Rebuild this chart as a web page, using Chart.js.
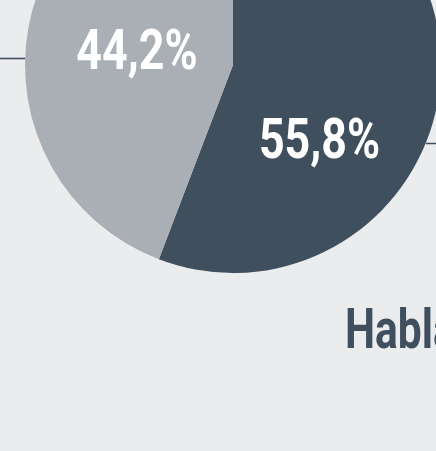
<!DOCTYPE html>
<html>
<head>
<meta charset="utf-8">
<script src="https://cdn.jsdelivr.net/npm/chart.js@4"></script>
<style>
  html, body { margin: 0; padding: 0; }
  body { width: 436px; height: 451px; overflow: hidden; background: #ebecee; position: relative; }
  #wrap { position: absolute; left: 0; top: -143px; width: 466px; height: 416px; }
  #caption {
    position: absolute; left: 345px; top: 301px; white-space: nowrap;
    font-family: Roboto, sans-serif; font-weight: bold; font-size: 56px; line-height: 1;
    color: #404f5d; transform: scaleX(0.76); transform-origin: left top;
  }
</style>
</head>
<body>
<div id="wrap"><canvas id="pieChart"></canvas></div>
<div id="caption">Hablan</div>
<script>
const sliceLabels = ["Sí", "No"];
const sliceValues = [55.8, 44.2];
const sliceColors = ["#404f5d", "#a9afb5"];

// label placement: angle (deg clockwise from top) and radius fraction
const labelSpots = [
  { angle: 130, radius: 0.543 },
  { angle: 279.5, radius: 0.468 }
];
// leader lines: angle where the line leaves the pie, and direction
const leaders = [
  { angle: 272, side: -1 },
  { angle: 112, side: 1 }
];

const pieLabels = {
  id: "pieLabels",
  afterDatasetsDraw(chart) {
    const ctx = chart.ctx;
    const arcs = chart.getDatasetMeta(0).data;
    const cx = arcs[0].x;
    const cy = arcs[0].y;
    const r = arcs[0].outerRadius;

    ctx.save();
    ctx.strokeStyle = "#404f5d";
    ctx.lineWidth = 1.6;
    leaders.forEach((l) => {
      const a = l.angle * Math.PI / 180;
      const x = cx + r * Math.sin(a);
      const y = Math.round(cy - r * Math.cos(a)) + 0.5;
      ctx.beginPath();
      ctx.moveTo(x, y);
      ctx.lineTo(l.side < 0 ? 0 : chart.width, y);
      ctx.stroke();
    });

    ctx.fillStyle = "#ffffff";
    ctx.font = "bold 56px Roboto, sans-serif";
    ctx.textAlign = "center";
    ctx.textBaseline = "alphabetic";
    sliceValues.forEach((v, i) => {
      const spot = labelSpots[i];
      const a = spot.angle * Math.PI / 180;
      const x = cx + r * spot.radius * Math.sin(a);
      const y = cy - r * spot.radius * Math.cos(a);
      ctx.save();
      ctx.translate(x, y);
      ctx.scale(0.8, 1);
      ctx.fillText(v.toFixed(1).replace(".", ",") + "%", 0, 20);
      ctx.restore();
    });
    ctx.restore();
  }
};

new Chart(document.querySelector("#pieChart"), {
  type: "pie",
  data: {
    labels: sliceLabels,
    datasets: [{
      data: sliceValues,
      backgroundColor: sliceColors,
      borderWidth: 0
    }]
  },
  options: {
    responsive: true,
    maintainAspectRatio: false,
    animation: false,
    layout: { padding: 0 },
    plugins: {
      legend: { display: false },
      tooltip: { enabled: false }
    }
  },
  plugins: [pieLabels]
});
</script>
</body>
</html>
